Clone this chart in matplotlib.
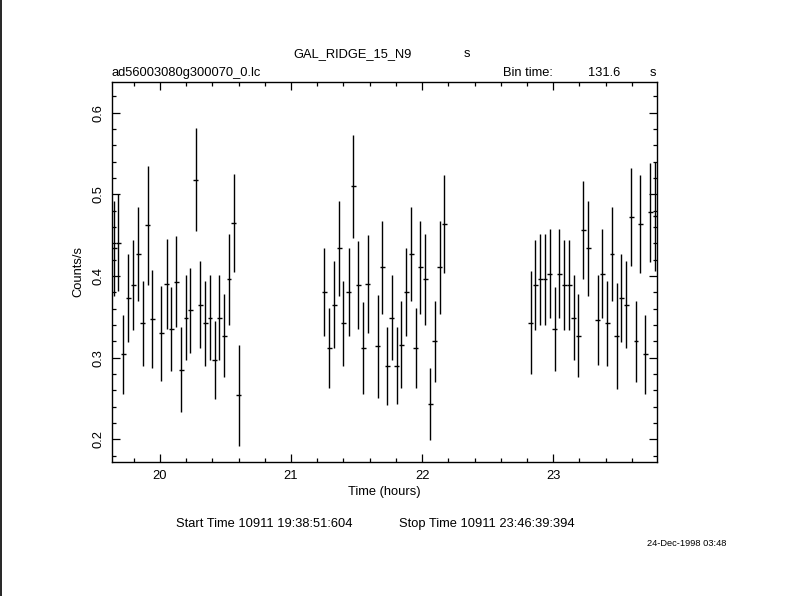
import matplotlib.pyplot as plt
from matplotlib.ticker import MultipleLocator, FormatStrFormatter
from matplotlib.lines import Line2D

# light curve bins (time in hours, count rate, 1-sigma error)
time_hr = [19.651, 19.682, 19.720, 19.758, 19.797, 19.835, 19.868, 19.906, 19.942,
           20.010, 20.051, 20.086, 20.125, 20.163, 20.198, 20.231, 20.272, 20.308,
           20.346, 20.381, 20.417, 20.453, 20.491, 20.526, 20.562, 20.600,
           21.254, 21.292, 21.330, 21.368, 21.399, 21.439, 21.475, 21.513, 21.551,
           21.584, 21.660, 21.696, 21.734, 21.767, 21.805, 21.841, 21.879, 21.917,
           21.950, 21.986, 22.024, 22.062, 22.095, 22.133, 22.169,
           22.827, 22.863, 22.901, 22.937, 22.972, 23.010, 23.046, 23.084, 23.122,
           23.155, 23.191, 23.229, 23.267, 23.338, 23.374, 23.412, 23.448, 23.483,
           23.519, 23.557, 23.595, 23.631, 23.664, 23.702, 23.740, 23.776]
rate = [0.434, 0.441, 0.304, 0.373, 0.389, 0.427, 0.342, 0.462, 0.347,
        0.330, 0.390, 0.335, 0.393, 0.285, 0.349, 0.358, 0.518, 0.365,
        0.342, 0.349, 0.297, 0.349, 0.327, 0.396, 0.465, 0.254,
        0.380, 0.312, 0.365, 0.434, 0.342, 0.380, 0.510, 0.389, 0.312,
        0.390, 0.314, 0.411, 0.290, 0.349, 0.290, 0.316, 0.380, 0.427,
        0.312, 0.411, 0.396, 0.243, 0.320, 0.411, 0.464,
        0.343, 0.389, 0.396, 0.396, 0.403, 0.335, 0.403, 0.389, 0.389,
        0.349, 0.327, 0.456, 0.434, 0.346, 0.403, 0.342, 0.427, 0.327,
        0.373, 0.365, 0.472, 0.320, 0.464, 0.304, 0.478, 0.473]
rate_err = [0.058, 0.059, 0.048, 0.054, 0.055, 0.058, 0.052, 0.073, 0.060,
            0.058, 0.055, 0.051, 0.056, 0.052, 0.052, 0.052, 0.063, 0.053,
            0.052, 0.052, 0.048, 0.052, 0.051, 0.056, 0.060, 0.062,
            0.054, 0.049, 0.053, 0.058, 0.052, 0.054, 0.063, 0.054, 0.056,
            0.060, 0.063, 0.057, 0.048, 0.052, 0.047, 0.053, 0.054, 0.057,
            0.049, 0.057, 0.056, 0.044, 0.050, 0.057, 0.060,
            0.063, 0.055, 0.056, 0.056, 0.055, 0.051, 0.055, 0.055, 0.055,
            0.052, 0.051, 0.060, 0.058, 0.055, 0.055, 0.052, 0.057, 0.065,
            0.054, 0.053, 0.060, 0.050, 0.060, 0.048, 0.061, 0.067]
bin_time_s = 131.6

plt.rcParams["font.family"] = ["Liberation Sans", "DejaVu Sans"]
plt.rcParams["font.size"] = 9.3

fig = plt.figure(figsize=(7.9, 5.96), dpi=100)
W, H = 790.0, 596.0
ax = fig.add_axes([111.7 / W, 1 - 461.7 / H, 545.0 / W, 380.0 / H])

ax.errorbar(time_hr, rate, yerr=rate_err, xerr=bin_time_s / 3600.0 / 2,
            fmt="none", ecolor="black", elinewidth=1.0, capsize=0)

ax.set_xlim(19.632, 23.789)
ax.set_ylim(0.1726, 0.638)
ax.set_xticks([20, 21, 22, 23])
ax.xaxis.set_minor_locator(MultipleLocator(0.2))
ax.set_yticks([0.2, 0.3, 0.4, 0.5, 0.6])
ax.yaxis.set_minor_locator(MultipleLocator(0.02))
ax.yaxis.set_major_formatter(FormatStrFormatter("%.1f"))
ax.tick_params(which="both", direction="in", top=True, right=True, width=0.9)
ax.tick_params(which="major", length=6)
ax.tick_params(which="minor", length=3)
ax.tick_params(axis="x", pad=6)
ax.tick_params(axis="y", pad=5)
for lab in ax.get_yticklabels():
    lab.set_rotation(90)
    lab.set_va("center")
for s in ax.spines.values():
    s.set_linewidth(1.0)

ax.set_xlabel("Time (hours)", labelpad=3)
ax.set_ylabel("Counts/s", labelpad=6)

# header and footer text as in the XRONOS output
fig.text(353 / W, 1 - 54 / H, "GAL_RIDGE_15_N9", ha="center", va="center")
fig.text(467 / W, 1 - 54 / H, "s", ha="center", va="center")
fig.text(111 / W, 1 - 73 / H, "ad56003080g300070_0.lc", ha="left", va="center")
fig.text(503 / W, 1 - 73 / H, "Bin time:", ha="left", va="center")
fig.text(620 / W, 1 - 73 / H, "131.6", ha="right", va="center")
fig.text(653 / W, 1 - 73 / H, "s", ha="center", va="center")
fig.text(176 / W, 1 - 524 / H, "Start Time 10911 19:38:51:604", ha="left", va="center")
fig.text(399 / W, 1 - 524 / H, "Stop Time 10911 23:46:39:394", ha="left", va="center")
fig.text(647 / W, 1 - 544 / H, "24-Dec-1998 03:48", ha="left", va="center", fontsize=6.7)

fig.add_artist(Line2D([0.8 / W, 0.8 / W], [0, 1], color="black", linewidth=1.2))

fig.savefig("out.png", dpi=100)
